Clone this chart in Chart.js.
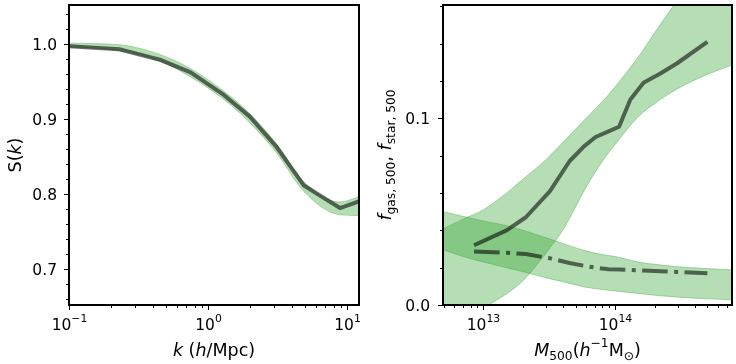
<!DOCTYPE html>
<html><head><meta charset="utf-8">
<script src="https://cdn.jsdelivr.net/npm/chart.js@4"></script>
<style>
html,body{margin:0;padding:0;background:#fff;}
#wrap{position:relative;width:736px;height:364px;}
.pane{position:absolute;top:0;width:368px;height:364px;}
#left{left:0;} #right{left:368px;}
</style></head><body>
<div id="wrap"><div class="pane" id="left"><canvas id="cl" width="368" height="364"></canvas></div><div class="pane" id="right"><canvas id="cr" width="368" height="364"></canvas></div></div>
<script>
// ---- left panel: S(k) ----
const kBins = [0.1, 0.23, 0.45, 0.75, 1.3, 2.0, 3.1, 4.9, 8.9, 12.2];
const sMean = [0.997, 0.993, 0.979, 0.962, 0.932, 0.903, 0.863, 0.811, 0.781, 0.790];
const sHi   = [1.001, 0.999, 0.986, 0.967, 0.937, 0.907, 0.867, 0.816, 0.789, 0.796];
const sLo   = [0.996, 0.991, 0.977, 0.956, 0.926, 0.895, 0.855, 0.803, 0.772, 0.771];
const leftYTicks = [0.7, 0.8, 0.9, 1.0];
const leftXTicks = [0.1, 1, 10];
const leftXExp = ['\u22121', '0', '1'];

// ---- right panel: gas / star fractions ----
const massLine = [8.5e12, 1.5e13, 2.1e13, 3.2e13, 4.5e13, 5.8e13, 7.1e13, 8.9e13, 1.07e14, 1.3e14, 1.64e14, 2.2e14, 2.95e14, 5.0e14];
const fGas  = [0.032, 0.040, 0.047, 0.061, 0.077, 0.085, 0.090, 0.093, 0.0955, 0.110, 0.119, 0.124, 0.1295, 0.141];
const fStar = [0.0287, 0.0280, 0.0273, 0.0250, 0.0225, 0.0210, 0.0200, 0.0192, 0.0190, 0.0188, 0.0185, 0.0181, 0.0177, 0.0170];
const massBand = [5e12, 7e12, 1e13, 1.5e13, 2e13, 3e13, 4e13, 6e13, 8e13, 1e14, 1.5e14, 2e14, 3e14, 5e14, 8e14];
const gasHi  = [0.041, 0.046, 0.051, 0.060, 0.0675, 0.078, 0.087, 0.100, 0.109, 0.117, 0.133, 0.146, 0.164, 0.185, 0.205];
const gasLo  = [-0.022, -0.012, -0.002, 0.006, 0.013, 0.028, 0.040, 0.063, 0.077, 0.086, 0.101, 0.108, 0.116, 0.1235, 0.129];
const starHi = [0.050, 0.0475, 0.045, 0.0425, 0.040, 0.036, 0.033, 0.029, 0.027, 0.026, 0.023, 0.0218, 0.0205, 0.0195, 0.0188];
const starLo = [0.0295, 0.026, 0.023, 0.020, 0.0178, 0.0145, 0.0125, 0.0095, 0.0083, 0.0075, 0.0062, 0.0052, 0.0042, 0.0033, 0.0027];
const rightYTicks = [0.0, 0.1];
const rightXTicks = [1e13, 1e14];
const rightXExp = ['13', '14'];

const FONT = "'DejaVu Sans', sans-serif";
const TICK_PX = 15.5, LAB_PX = 17.5;
const LINE = 'rgba(0,0,0,0.57)';
const BAND = 'rgba(44,160,44,0.35)';

const pts = (xs, ys) => xs.map((x, i) => ({ x, y: ys[i] }));
const meanDs = (xs, ys, dash) => ({ data: pts(xs, ys), borderColor: LINE, borderWidth: 4, borderDash: dash || [], borderCapStyle: 'butt', borderJoinStyle: 'round', pointRadius: 0, fill: false });
const hiDs = (xs, ys) => ({ data: pts(xs, ys), borderColor: BAND, borderWidth: 1, backgroundColor: BAND, pointRadius: 0, fill: '+1', cubicInterpolationMode: 'monotone' });
const loDs = (xs, ys) => ({ data: pts(xs, ys), borderColor: BAND, borderWidth: 1, pointRadius: 0, fill: false, cubicInterpolationMode: 'monotone' });

// text in runs: {t, it (italic), pos: 1 sup, -1 sub}
function drawRuns(ctx, runs, x, y, size, align) {
  const fnt = (r) => `${r.it ? 'italic ' : ''}${r.pos ? size * 0.7 : size}px ${FONT}`;
  let w = 0;
  runs.forEach((r) => { ctx.font = fnt(r); r._w = ctx.measureText(r.t).width; w += r._w; });
  let cx = align === 'right' ? x - w : align === 'left' ? x : x - w / 2;
  ctx.textAlign = 'left'; ctx.textBaseline = 'alphabetic';
  runs.forEach((r) => {
    ctx.font = fnt(r);
    const dy = r.pos === 1 ? -size * 0.5 : r.pos === -1 ? size * 0.22 : 0;
    ctx.fillText(r.t, cx, y + dy);
    cx += r._w;
  });
}
function logMinors(min, max) {
  const out = [];
  for (let d = Math.floor(Math.log10(min)); d <= Math.ceil(Math.log10(max)); d++)
    for (let m = 2; m <= 9; m++) { const v = m * Math.pow(10, d); if (v >= min && v <= max) out.push(v); }
  return out;
}
function linMinors(min, max, step) {
  const out = [];
  for (let v = Math.ceil(min / step) * step; v <= max + 1e-9; v += step) out.push(+v.toFixed(6));
  return out;
}

// frame, ticks, tick labels and axis titles (matplotlib look)
function decor(o) {
  return {
    id: 'decor',
    afterDraw(chart) {
      const { ctx, chartArea: a } = chart, xs = chart.scales.x, ys = chart.scales.y;
      ctx.save();
      ctx.strokeStyle = '#000'; ctx.fillStyle = '#000';
      ctx.lineWidth = 1;
      const tick = (x1, y1, x2, y2) => { ctx.beginPath(); ctx.moveTo(x1, y1); ctx.lineTo(x2, y2); ctx.stroke(); };
      o.yMinor.forEach((v) => { const y = Math.round(ys.getPixelForValue(v)) + 0.5; tick(a.left - 3, y, a.left, y); });
      o.xMinor.forEach((v) => { const x = Math.round(xs.getPixelForValue(v)) + 0.5; tick(x, a.bottom, x, a.bottom + 3); });
      o.yTicks.forEach((v) => {
        const y = Math.round(ys.getPixelForValue(v)) + 0.5; tick(a.left - 5, y, a.left, y);
        drawRuns(ctx, [{ t: v.toFixed(1) }], a.left - o.yPad, y + 5.5, TICK_PX, 'right');
      });
      o.xTicks.forEach((v, i) => {
        const x = Math.round(xs.getPixelForValue(v)) + 0.5; tick(x, a.bottom, x, a.bottom + 5);
        drawRuns(ctx, [{ t: '10' }, { t: o.xExp[i], pos: 1 }], x, 330, TICK_PX, 'center');
      });
      ctx.lineWidth = 2;
      ctx.strokeRect(a.left, a.top, a.right - a.left, a.bottom - a.top);
      drawRuns(ctx, o.xTitle, (a.left + a.right) / 2, 356, LAB_PX, 'center');
      ctx.translate(o.yTitleX, (a.top + a.bottom) / 2);
      ctx.rotate(-Math.PI / 2);
      drawRuns(ctx, o.yTitle, 0, 0, LAB_PX, 'center');
      ctx.restore();
    },
  };
}

function makeChart(id, datasets, x, y, pad, o) {
  return new Chart(document.getElementById(id), {
    type: 'line',
    data: { datasets },
    options: {
      responsive: false, animation: false, devicePixelRatio: 1,
      layout: { padding: pad },
      scales: {
        x: { type: 'logarithmic', min: x[0], max: x[1], display: false },
        y: { type: 'linear', min: y[0], max: y[1], display: false },
      },
      plugins: { legend: { display: false }, tooltip: { enabled: false } },
    },
    plugins: [decor(o)],
  });
}

makeChart('cl',
  [meanDs(kBins, sMean), hiDs(kBins, sHi), loDs(kBins, sLo)],
  [0.1, 12.2], [0.6516, 1.052], { left: 69, top: 5, right: 9, bottom: 59 },
  {
    yTicks: leftYTicks, yMinor: linMinors(0.66, 1.05, 0.02), xTicks: leftXTicks, xExp: leftXExp,
    xMinor: logMinors(0.1, 12.2), yPad: 12, yTitleX: 21,
    xTitle: [{ t: 'k', it: 1 }, { t: ' (' }, { t: 'h', it: 1 }, { t: '/Mpc)' }],
    yTitle: [{ t: 'S(' }, { t: 'k', it: 1 }, { t: ')' }],
  });

makeChart('cr',
  [meanDs(massLine, fGas), meanDs(massLine, fStar, [25.6, 6.4, 4, 6.4]),
   hiDs(massBand, gasHi), loDs(massBand, gasLo), hiDs(massBand, starHi), loDs(massBand, starLo)],
  [4.94e12, 7.69e14], [0, 0.1607], { left: 75, top: 5, right: 4, bottom: 59 },
  {
    yTicks: rightYTicks, yMinor: linMinors(0.02, 0.16, 0.02), xTicks: rightXTicks, xExp: rightXExp,
    xMinor: logMinors(4.94e12, 7.69e14), yPad: 13, yTitleX: 23,
    xTitle: [{ t: 'M', it: 1 }, { t: '500', pos: -1 }, { t: '(' }, { t: 'h', it: 1 }, { t: '\u22121', pos: 1 }, { t: 'M' }, { t: '\u2299', pos: -1 }, { t: ')' }],
    yTitle: [{ t: 'f', it: 1 }, { t: 'gas, 500', pos: -1 }, { t: ', ' }, { t: 'f', it: 1 }, { t: 'star, 500', pos: -1 }],
  });
</script>
</body></html>
